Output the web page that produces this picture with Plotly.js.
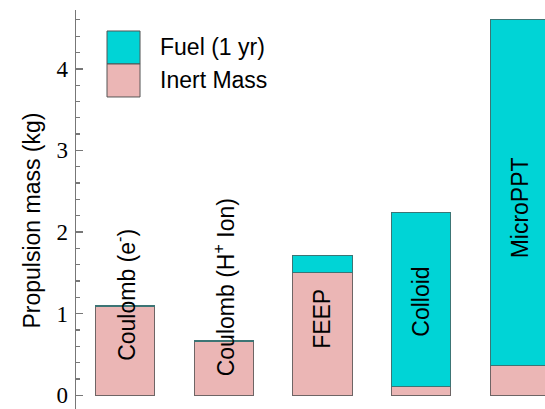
<!DOCTYPE html>
<html>
<head>
<meta charset="utf-8">
<script src="https://cdn.plot.ly/plotly-3.0.1.min.js"></script>
<style>html,body{margin:0;padding:0;background:#fff;}#chart{width:545px;height:409px;}</style>
</head>
<body>
<div id="chart"></div>
<script>
const categories = ["Coulomb (e<sup>-</sup>)", "Coulomb (H<sup>+</sup> Ion)", "FEEP", "Colloid", "MicroPPT"];
const inertMass = [1.09, 0.66, 1.50, 0.11, 0.36];
const fuel1yr = [0.01, 0.01, 0.21, 2.13, 4.24];
const labelY = [1.23, 1.32, 0.93, 1.15, 2.29];
const seriesNames = ["Fuel (1 yr)", "Inert Mass"];
const yTickVals = [0, 1, 2, 3, 4];

const cyan = "#00d4d6";
const pink = "#ebb6b5";
const xs = categories.map((c, i) => i);

const traces = [
  {type: "bar", x: xs, y: inertMass, name: seriesNames[1], width: 0.6,
   marker: {color: pink, line: {color: "#6e6565", width: 1}}, hoverinfo: "skip"},
  {type: "bar", x: xs, y: fuel1yr, name: seriesNames[0], width: 0.6,
   marker: {color: cyan, line: {color: "#3c7575", width: 1}}, hoverinfo: "skip"}
];

const annotations = categories.map((c, i) => ({
  x: i, y: labelY[i], xref: "x", yref: "y", text: c, textangle: -90,
  showarrow: false, font: {family: "Liberation Sans, Arial, sans-serif", size: 23, color: "#000"},
  xanchor: "center", yanchor: "middle"
}));

annotations.push({
  x: -0.094, y: 0.472, xref: "paper", yref: "paper", text: "Propulsion mass (kg)",
  textangle: -90, showarrow: false, xanchor: "center", yanchor: "middle",
  font: {family: "Liberation Sans, Arial, sans-serif", size: 23, color: "#000"}
});

const legendY = [[0.8647, 0.9474], [0.7820, 0.8647]];
const legendColors = [cyan, pink];
const shapes = [];
seriesNames.forEach((n, k) => {
  shapes.push({type: "rect", xref: "paper", yref: "paper", x0: 0.0661, x1: 0.1365,
    y0: legendY[k][0], y1: legendY[k][1], fillcolor: legendColors[k],
    line: {color: "#555", width: 1}});
  annotations.push({x: 0.1748, y: (legendY[k][0] + legendY[k][1]) / 2, xref: "paper", yref: "paper",
    text: n, showarrow: false, xanchor: "left", yanchor: "middle",
    font: {family: "Liberation Sans, Arial, sans-serif", size: 23, color: "#000"}});
});

const layout = {
  width: 545, height: 409,
  margin: {l: 76, r: 0, t: 10, b: 0, pad: 0},
  paper_bgcolor: "#fff", plot_bgcolor: "#fff",
  barmode: "stack", showlegend: false,
  xaxis: {range: [-0.496, 4.253], showticklabels: false, ticks: "", showgrid: false,
          zeroline: false, showline: false, fixedrange: true},
  yaxis: {range: [-0.168, 4.72], showgrid: false, zeroline: false, showline: true,
          linecolor: "#777", linewidth: 1.5, ticks: "inside", ticklen: 7, tickcolor: "#777", tickwidth: 1.5,
          tickvals: yTickVals, ticktext: yTickVals.map(String), ticklabelstandoff: 2,
          tickfont: {family: "Liberation Serif, Times New Roman, serif", size: 23, color: "#000"},
          minor: {dtick: 0.2, ticks: "inside", ticklen: 4, tickcolor: "#777", tickwidth: 1.2},
          fixedrange: true},
  annotations: annotations,
  shapes: shapes
};

Plotly.newPlot("chart", traces, layout, {displayModeBar: false, staticPlot: true});
</script>
</body>
</html>
